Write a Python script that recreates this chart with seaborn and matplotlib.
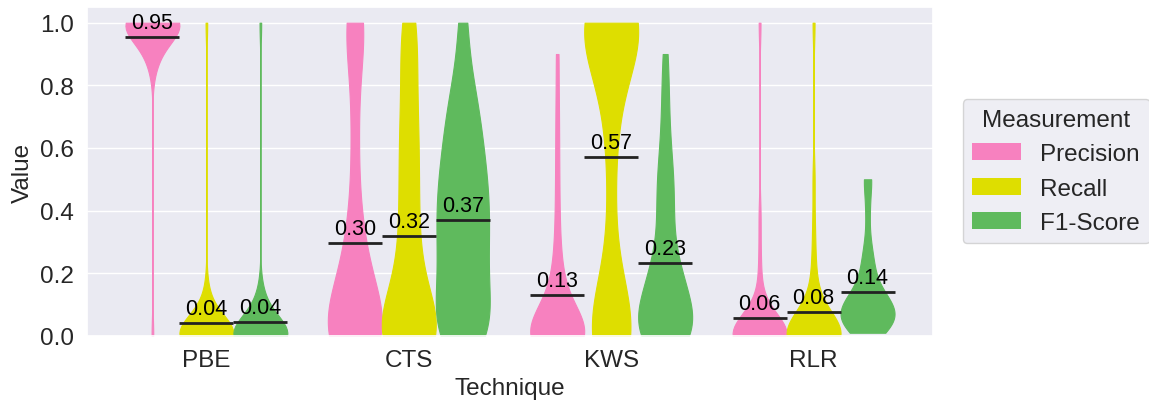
import matplotlib
matplotlib.use("Agg")
import matplotlib.pyplot as plt
from matplotlib.patches import Patch
import seaborn as sns
import pandas as pd

techniques = ["PBE", "CTS", "KWS", "RLR"]
measurements = ["Precision", "Recall", "F1-Score"]
colors = ["#f781bf", "#dede00", "#5fba5d"]

pbe_precision = [1.0, 1.0, 1.0, 1.0, 1.0, 1.0, 1.0, 1.0, 1.0, 1.0, 1.0, 1.0, 1.0, 1.0,
                 1.0, 1.0, 1.0, 1.0, 1.0, 1.0, 1.0, 1.0, 1.0, 1.0, 1.0, 1.0, 1.0, 1.0,
                 0.97, 0.96, 0.95, 0.95, 0.93, 0.92, 0.9, 0.9, 0.88, 0.86, 0.0]
pbe_recall = [0.0, 0.0, 0.0, 0.0, 0.0, 0.0, 0.0, 0.0, 0.0, 0.0, 0.0, 0.0, 0.0, 0.0,
              0.0, 0.0, 0.0, 0.0, 0.0, 0.0, 0.0, 0.0, 0.0, 0.0, 0.0, 0.0, 0.0, 0.0,
              0.02, 0.03, 0.04, 0.05, 0.06, 0.07, 0.08, 0.1, 0.15, 1.0]
pbe_f1 = [0.0, 0.0, 0.0, 0.0, 0.0, 0.0, 0.0, 0.0, 0.0, 0.0, 0.0, 0.0, 0.0, 0.0,
          0.0, 0.0, 0.0, 0.0, 0.0, 0.0, 0.0, 0.0, 0.0, 0.0, 0.0, 0.0, 0.0,
          0.01, 0.02, 0.03, 0.04, 0.05, 0.06, 0.08, 0.1, 0.12, 0.13, 1.0]

cts_precision = [0.0, 0.0, 0.0, 0.0, 0.0, 0.0, 0.0, 0.0, 0.0, 0.0, 0.0, 0.0, 0.0, 0.0,
                 0.03, 0.05, 0.07, 0.09, 0.11, 0.13, 0.15, 0.17, 0.19, 0.22, 0.25, 0.28,
                 0.32, 0.37, 0.45, 0.55, 0.65, 0.75, 0.85, 0.93, 1.0, 1.0, 1.0, 1.0, 1.0]
cts_recall = [0.0, 0.0, 0.0, 0.0, 0.0, 0.0, 0.0, 0.0, 0.0, 0.0, 0.0, 0.0, 0.0,
              0.03, 0.06, 0.09, 0.12, 0.15, 0.18, 0.21, 0.24, 0.27, 0.34, 0.38, 0.42,
              0.45, 0.5, 0.56, 0.6, 0.62, 0.68, 0.73, 0.78, 0.84, 0.9, 0.95, 1.0, 1.0]
cts_f1 = [0.0, 0.0, 0.0, 0.0, 0.04, 0.07, 0.1, 0.13, 0.16, 0.19, 0.22, 0.25, 0.28,
          0.31, 0.34, 0.37, 0.39, 0.42, 0.45, 0.48, 0.51, 0.54, 0.57, 0.61, 0.65, 0.69,
          0.73, 0.78, 0.86, 1.0]

kws_precision = [0.0, 0.0, 0.0, 0.0, 0.0, 0.0, 0.0, 0.0, 0.0, 0.0, 0.0, 0.0, 0.0, 0.0,
                 0.0, 0.0, 0.0, 0.0, 0.0, 0.0, 0.02, 0.04, 0.06, 0.08, 0.1, 0.12, 0.14,
                 0.17, 0.21, 0.26, 0.33, 0.42, 0.52, 0.63, 0.75, 0.9]
kws_recall = [0.0, 0.0, 0.0, 0.0, 0.0, 0.0, 0.0, 0.0, 0.0, 0.0, 0.0, 0.03, 0.06, 0.1,
              0.15, 0.22, 0.32, 0.45, 0.58, 0.66, 0.72, 0.78, 0.84, 0.89, 0.92, 0.95, 0.97,
              0.98, 1.0, 1.0, 1.0, 1.0, 1.0, 1.0, 1.0, 1.0, 1.0, 1.0, 1.0, 1.0, 1.0, 1.0, 1.0]
kws_f1 = [0.0, 0.0, 0.0, 0.0, 0.0, 0.0, 0.0, 0.0, 0.0, 0.02, 0.04, 0.05, 0.07, 0.08,
          0.09, 0.1, 0.11, 0.12, 0.13, 0.15, 0.17, 0.19, 0.2, 0.22, 0.24, 0.27, 0.31,
          0.36, 0.4, 0.42, 0.47, 0.5, 0.53, 0.58, 0.64, 0.72, 0.8, 0.9]

rlr_precision = [0.0, 0.0, 0.0, 0.0, 0.0, 0.0, 0.0, 0.0, 0.0, 0.0, 0.0, 0.0, 0.0, 0.0,
                 0.0, 0.0, 0.0, 0.0, 0.0, 0.0, 0.0, 0.0, 0.0, 0.0, 0.0, 0.0,
                 0.02, 0.03, 0.05, 0.07, 0.1, 0.15, 0.25, 0.38, 1.0]
rlr_recall = [0.0, 0.0, 0.0, 0.0, 0.0, 0.0, 0.0, 0.0, 0.0, 0.0, 0.0, 0.0, 0.0, 0.0,
              0.0, 0.0, 0.0, 0.0, 0.0, 0.0, 0.0, 0.0, 0.0, 0.0,
              0.02, 0.04, 0.06, 0.08, 0.1, 0.13, 0.18, 0.25, 0.35, 0.5, 1.0]
rlr_f1 = [0.01, 0.02, 0.02, 0.03, 0.04, 0.04, 0.05, 0.05, 0.06, 0.06, 0.07, 0.08, 0.08,
          0.09, 0.1, 0.1, 0.11, 0.12, 0.13, 0.14, 0.16, 0.2, 0.22, 0.25, 0.3, 0.4, 0.5, 0.5]

samples = {
    ("PBE", "Precision"): pbe_precision, ("PBE", "Recall"): pbe_recall, ("PBE", "F1-Score"): pbe_f1,
    ("CTS", "Precision"): cts_precision, ("CTS", "Recall"): cts_recall, ("CTS", "F1-Score"): cts_f1,
    ("KWS", "Precision"): kws_precision, ("KWS", "Recall"): kws_recall, ("KWS", "F1-Score"): kws_f1,
    ("RLR", "Precision"): rlr_precision, ("RLR", "Recall"): rlr_recall, ("RLR", "F1-Score"): rlr_f1,
}

rows = []
for t in techniques:
    for m in measurements:
        for v in samples[(t, m)]:
            rows.append({"Technique": t, "Measurement": m, "Value": v})
df = pd.DataFrame(rows)

sns.set_theme(style="darkgrid")
plt.rcParams["font.family"] = ["Liberation Sans", "DejaVu Sans"]

fig, ax = plt.subplots(figsize=(11.49, 4.02), dpi=100)
fig.subplots_adjust(left=0.0757, right=0.812, top=0.980, bottom=0.162)

width = 0.8
sns.violinplot(data=df, x="Technique", y="Value", hue="Measurement",
               order=techniques, hue_order=measurements, palette=colors,
               cut=0, inner=None, density_norm="width", bw_adjust=0.72,
               width=width, saturation=1, linewidth=0.8, ax=ax, legend=False)
for coll in ax.collections:
    coll.set_edgecolor(coll.get_facecolor())

# mean lines + labels
hw = width / len(measurements)
means = df.groupby(["Technique", "Measurement"])["Value"].mean()
for i, t in enumerate(techniques):
    for j, m in enumerate(measurements):
        c = i - width / 2 + (j + 0.5) * hw
        mu = means[(t, m)]
        ax.hlines(mu, c - hw / 2, c + hw / 2, color="#222222", lw=2, zorder=5)
        ax.annotate(f"{mu:.2f}", (c, mu), xytext=(0, 6.5), textcoords="offset points",
                    ha="center", va="baseline", fontsize=15.5, color="black", zorder=6)

ax.set_ylim(0, 1.05)
ax.set_yticks([0.0, 0.2, 0.4, 0.6, 0.8, 1.0])
ax.tick_params(labelsize=17.5)
ax.set_xlabel("Technique", fontsize=17.5)
ax.set_ylabel("Value", fontsize=17.5)

handles = [Patch(facecolor=c, edgecolor="none", label=m) for c, m in zip(colors, measurements)]
ax.legend(handles=handles, title="Measurement", loc="center left",
          bbox_to_anchor=(1.035, 0.5), borderaxespad=0, fontsize=17.5, title_fontsize=17.5)

fig.savefig("out.png", dpi=100)
